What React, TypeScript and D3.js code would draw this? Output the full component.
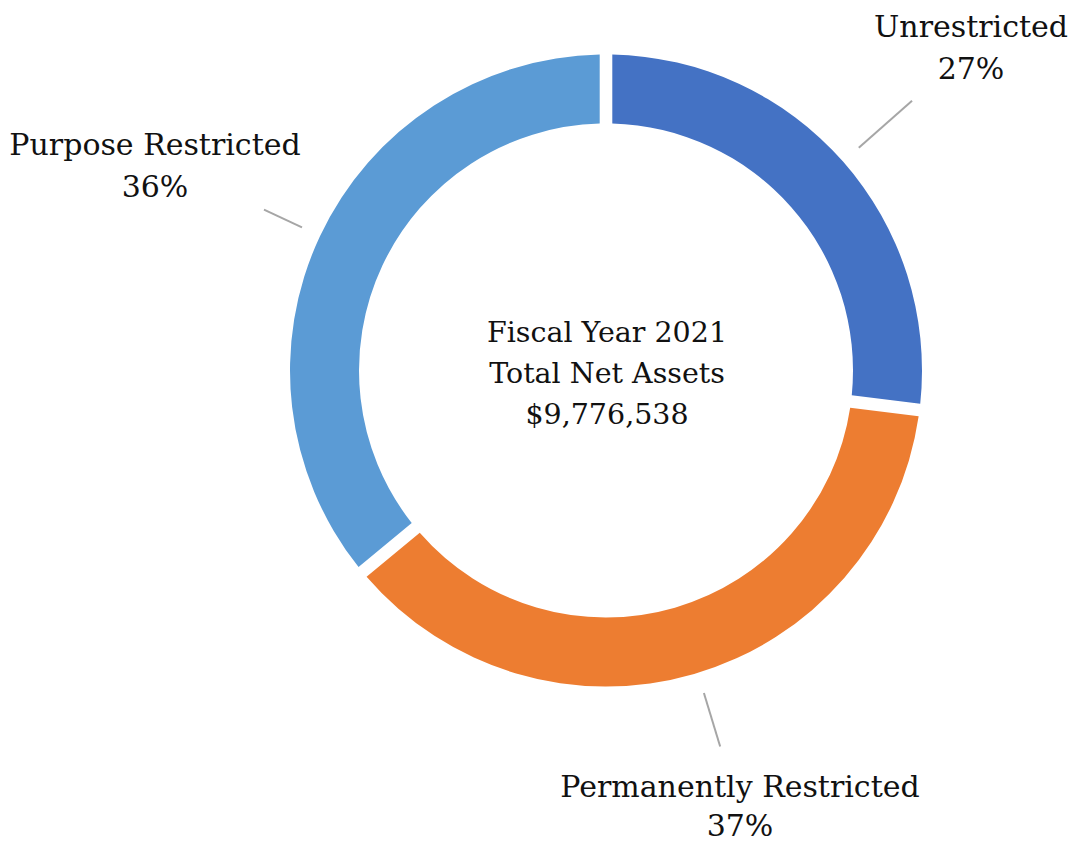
import React from "react";
import * as d3 from "d3";

const categories = ["Unrestricted", "Permanently Restricted", "Purpose Restricted"];
const values = [27, 37, 36];
const percentLabels = ["27%", "37%", "36%"];
const colors = ["#4472C4", "#ED7D31", "#5B9BD5"];
const centerLines = ["Fiscal Year 2021", "Total Net Assets", "$9,776,538"];

// layout (not data)
const W = 1073;
const H = 842;
const CX = 606;
const CY = 370.5;
const R_OUT = 316;
const R_IN = 247;
const labelLayout = [
  { x: 971, y: 37, gap: 42, lineIn: 337, lineOut: 408 },
  { x: 740, y: 797, gap: 39, lineIn: 337, lineOut: 393 },
  { x: 155, y: 155, gap: 42, lineIn: 336, lineOut: 378 },
];

export default function App() {
  const pie = d3.pie<number>().sort(null).value((d) => d);
  const arcs = pie(values);
  const arc = d3
    .arc<d3.PieArcDatum<number>>()
    .innerRadius(R_IN)
    .outerRadius(R_OUT)
    .padAngle(0.042)
    .padRadius(300);
  const font = "'DejaVu Serif', serif";
  return (
    <svg
      width={W}
      height={H}
      style={{ position: "absolute", left: 0, top: 0, background: "#fff" }}
    >
      <g transform={`translate(${CX},${CY})`}>
        {arcs.map((a, i) => (
          <path key={categories[i]} d={arc(a) || ""} fill={colors[i]} />
        ))}
        {arcs.map((a, i) => {
          const mid = (a.startAngle + a.endAngle) / 2 - (i === 1 ? 0.012 : 0);
          const L = labelLayout[i];
          const x1 = Math.sin(mid) * L.lineIn;
          const y1 = -Math.cos(mid) * L.lineIn;
          const x2 = Math.sin(mid) * L.lineOut;
          const y2 = -Math.cos(mid) * L.lineOut;
          return (
            <line
              key={"l" + i}
              x1={x1}
              y1={y1}
              x2={x2}
              y2={y2}
              stroke="#A6A6A6"
              strokeWidth={2}
            />
          );
        })}
        {centerLines.map((t, i) => (
          <text
            key={t}
            x={1}
            y={342 - CY + i * 41}
            textAnchor="middle"
            fontFamily={font}
            fontSize={28.5}
            fill="#111"
          >
            {t}
          </text>
        ))}
      </g>
      {categories.map((c, i) => {
        const L = labelLayout[i];
        return (
          <g key={"t" + i} fontFamily={font} fontSize={30} fill="#111" textAnchor="middle">
            <text x={L.x} y={L.y}>
              {c}
            </text>
            <text x={L.x} y={L.y + L.gap}>
              {percentLabels[i]}
            </text>
          </g>
        );
      })}
    </svg>
  );
}
